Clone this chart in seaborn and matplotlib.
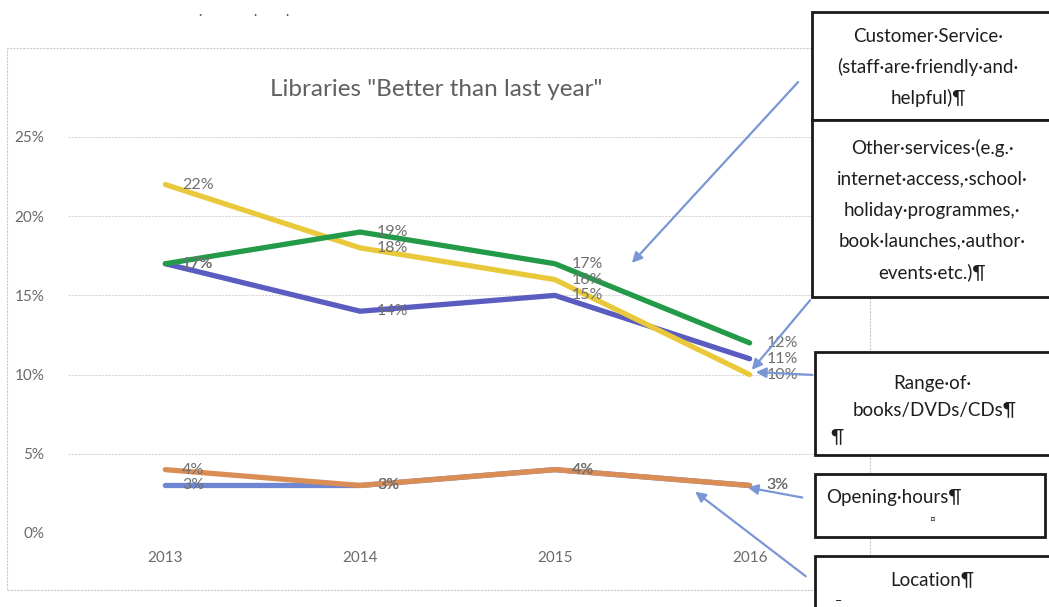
import matplotlib
matplotlib.use("Agg")
import matplotlib.pyplot as plt
from matplotlib.patches import Rectangle
import seaborn as sns
import pandas as pd

# ---- data ----
years = [2013, 2014, 2015, 2016]
series_names = ["Location", "Other services", "Range of books/DVDs/CDs",
                "Customer Service", "Opening hours"]
location = [0.03, 0.03, 0.04, 0.03]
other_services = [0.17, 0.14, 0.15, 0.11]
range_books = [0.22, 0.18, 0.16, 0.10]
customer_service = [0.17, 0.19, 0.17, 0.12]
opening_hours = [0.04, 0.03, 0.04, 0.03]
y_ticks = [0, 0.05, 0.10, 0.15, 0.20, 0.25]
y_tick_labels = ["0%", "5%", "10%", "15%", "20%", "25%"]
title = 'Libraries "Better than last year"'

colors = {
    "Location": "#6f86d3",
    "Other services": "#5a5cc0",
    "Range of books/DVDs/CDs": "#e9c93b",
    "Customer Service": "#239a48",
    "Opening hours": "#da8d55",
}

values = [location, other_services, range_books, customer_service, opening_hours]
df = pd.DataFrame(
    [(y, name, v) for name, vals in zip(series_names, values) for y, v in zip(years, vals)],
    columns=["year", "series", "value"],
)

sns.set_theme(style="white")
plt.rcParams["font.family"] = ["Lato", "DejaVu Sans"]

W, H = 1049, 607
fig = plt.figure(figsize=(W / 100, H / 100), dpi=100)
fig.patch.set_facecolor("white")


def fx(px):
    return px / W


def fy(py):
    return 1 - py / H


# chart area border
fig.patches.append(Rectangle((fx(7), fy(590)), fx(870) - fx(7), fy(48) - fy(590),
                             transform=fig.transFigure, fill=False,
                             edgecolor="#c8c8c8", lw=0.8, ls=(0, (2, 1))))

ax = fig.add_axes([fx(68), fy(533), fx(847) - fx(68), fy(137) - fy(533)])
ax.set_facecolor("none")

sns.lineplot(data=df, x="year", y="value", hue="series", hue_order=series_names,
             palette=colors, linewidth=3.8, legend=False, ax=ax, sort=False)

ax.set_xlim(2012.5, 2016.5)
ax.set_ylim(0, 0.25)
ax.set_yticks(y_ticks)
ax.set_yticklabels(y_tick_labels)
ax.set_xticks(years)
ax.set_xticklabels([str(y) for y in years])
ax.tick_params(axis="both", length=0, labelsize=11, colors="#6a6a6a")
ax.tick_params(axis="y", pad=17)
ax.tick_params(axis="x", pad=13)
ax.set_xlabel("")
ax.set_ylabel("")
ax.yaxis.grid(True, color="#d6d6d6", lw=0.8, ls=(0, (2, 1)))
ax.xaxis.grid(False)
for s in ax.spines.values():
    s.set_visible(False)
ax.set_axisbelow(True)

# data labels
for name, vals in zip(series_names, values):
    for yr, v in zip(years, vals):
        ax.annotate(f"{v:.0%}", (yr, v), xytext=(12, 0), textcoords="offset points",
                    ha="left", va="center", fontsize=11.5, color="#707070")

fig.text(fx(436), fy(90), title, ha="center", va="center", fontsize=17.5, color="#606060")

# stray scan marks at top
for px in (200, 255, 287):
    fig.text(fx(px), fy(15), "·", ha="center", va="center", fontsize=9, color="#555555")

# callout boxes
box_kw = dict(transform=fig.transFigure, fill=True, facecolor="white",
              edgecolor="#1a1a1a", lw=2.0, zorder=5)


def box(x0, y0, x1, y1):
    fig.patches.append(Rectangle((fx(x0), fy(y1)), fx(x1) - fx(x0), fy(y0) - fy(y1), **box_kw))


box(812, 12, 1060, 120)
box(812, 120, 1060, 297)
box(815, 352, 1060, 455)
box(815, 474, 1045, 537)
box(815, 556, 1060, 620)

txt_kw = dict(ha="center", va="center", fontsize=13.5, color="#1e1e1e", zorder=6)
for i, line in enumerate(["Customer·Service·", "(staff·are·friendly·and·", "helpful)¶"]):
    fig.text(fx(928), fy(36 + i * 31), line, **txt_kw)
for i, line in enumerate(["Other·services·(e.g.·", "internet·access,·school·",
                          "holiday·programmes,·", "book·launches,·author·", "events·etc.)¶"]):
    fig.text(fx(932), fy(148 + i * 31), line, **txt_kw)
fig.text(fx(932), fy(383), "Range·of·", **txt_kw)
fig.text(fx(935), fy(410), "books/DVDs/CDs¶", **txt_kw)
fig.text(fx(830), fy(437), "¶", **{**txt_kw, "ha": "left"})
fig.text(fx(826), fy(497), "Opening·hours¶", **{**txt_kw, "ha": "left"})
fig.text(fx(932), fy(519), "¤", ha="center", va="center", fontsize=7, color="#1e1e1e", zorder=6)
fig.text(fx(932), fy(580), "Location¶", **txt_kw)
fig.text(fx(838), fy(601), "–", ha="center", va="center", fontsize=9, color="#1e1e1e", zorder=6)

# callout arrows
arrow_kw = dict(arrowstyle="-|>,head_length=0.6,head_width=0.3", color="#7b96d4", lw=1.6)
arrows = [((800, 80), (630, 265)),
          ((812, 298), (750, 372)),
          ((815, 375), (753, 372)),
          ((805, 498), (745, 487)),
          ((808, 578), (693, 490))]
for (sx, sy), (tx, ty) in arrows:
    fig.add_artist(matplotlib.patches.FancyArrowPatch(
        (fx(sx), fy(sy)), (fx(tx), fy(ty)), transform=fig.transFigure,
        mutation_scale=10, zorder=4, **arrow_kw))

fig.savefig("out.png", dpi=100, facecolor="white")
